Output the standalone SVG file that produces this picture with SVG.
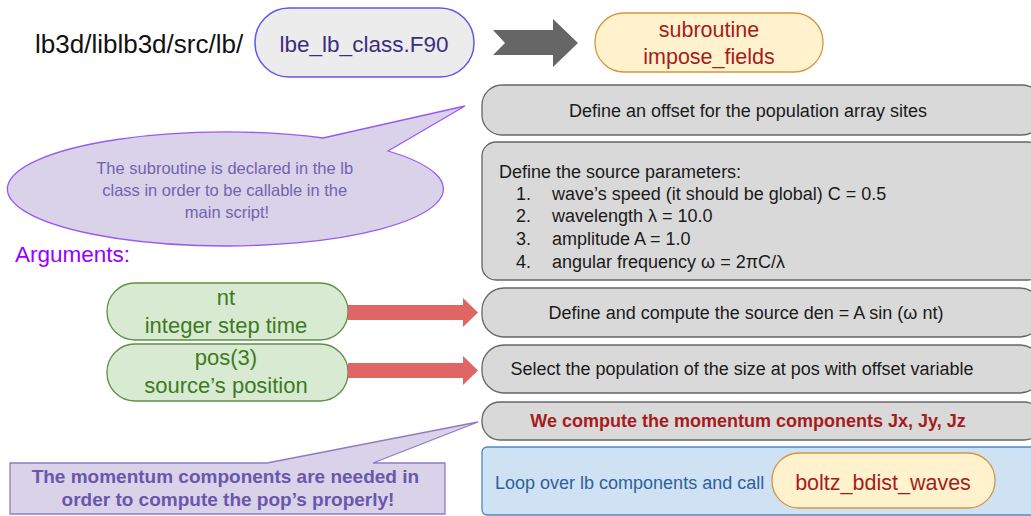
<svg xmlns="http://www.w3.org/2000/svg" width="1031" height="516" viewBox="0 0 1031 516">
  <style>
    text { font-family: "Liberation Sans", Arial, sans-serif; }
    .step { fill: #d9d9d9; stroke: #666666; stroke-width: 1.3; }
    .steptxt { font-size: 18px; fill: #1a1a1a; text-anchor: middle; }
    .orange { fill: #fff2cc; stroke: #d6953f; stroke-width: 1.3; }
    .redtxt { font-size: 21.5px; fill: #a61c1c; text-anchor: middle; }
    .green { fill: #d9ead3; stroke: #5f9146; stroke-width: 1.3; }
    .greentxt { font-size: 22px; fill: #3d7a22; text-anchor: middle; }
    .note { fill: #d9d2e9; stroke: #9b59f0; stroke-width: 1.3; }
    .redarrow { fill: #e06666; }
  </style>

  <!-- path label and source file -->
  <g id="path-label">
    <text x="35" y="53" font-size="26" fill="#111111">lb3d/liblb3d/src/lb/</text>
  </g>
  <g id="source-file">
    <rect x="255" y="8" width="219" height="69" rx="34" fill="#ececec" stroke="#5a5aee" stroke-width="1.5"/>
    <text x="364" y="52" font-size="22.5" fill="#3b2e7e" text-anchor="middle">lbe_lb_class.F90</text>
  </g>

  <g id="subroutine">
    <rect x="595" y="13" width="228" height="59" rx="29" class="orange"/>
    <text x="709" y="37" class="redtxt">subroutine</text>
    <text x="709" y="64" class="redtxt">impose_fields</text>
  </g>

  <!-- processing steps -->
  <g id="step-offset">
    <rect x="482" y="85" width="560" height="50" rx="20" class="step"/>
    <text x="748" y="117" class="steptxt">Define an offset for the population array sites</text>
  </g>

  <g id="step-params">
    <rect x="482" y="142" width="560" height="138" rx="14" class="step"/>
    <text x="499" y="178" font-size="18" fill="#1a1a1a">Define the source parameters:</text>
    <text font-size="18" fill="#1a1a1a">
      <tspan x="516" y="200">1.</tspan><tspan x="552" y="200">wave’s speed (it should be global) C = 0.5</tspan>
      <tspan x="516" y="222">2.</tspan><tspan x="552" y="222">wavelength  λ = 10.0</tspan>
      <tspan x="516" y="245">3.</tspan><tspan x="552" y="245">amplitude A = 1.0</tspan>
      <tspan x="516" y="268">4.</tspan><tspan x="552" y="268">angular frequency  ω = 2πC/λ</tspan>
    </text>
  </g>

  <g id="step-source">
    <rect x="482" y="288" width="560" height="49" rx="22" class="step"/>
    <text x="746" y="319" class="steptxt">Define and compute the source den = A sin (ω nt)</text>
  </g>

  <g id="step-select">
    <rect x="482" y="345" width="560" height="48" rx="22" class="step"/>
    <text x="742" y="375" class="steptxt">Select the population of the size at pos with offset variable</text>
  </g>

  <g id="step-momentum">
    <rect x="482" y="402" width="560" height="38" rx="18" class="step"/>
    <text x="748" y="427" class="steptxt" font-weight="bold" style="fill:#a61c1c">We compute the momentum components Jx, Jy, Jz</text>
  </g>

  <g id="step-loop">
    <rect x="482" y="447" width="560" height="68" rx="5" fill="#cfe2f3" stroke="#4f86c6" stroke-width="1.3"/>
    <text x="495" y="489" font-size="18" fill="#2f609a">Loop over lb components and call</text>
    <rect x="772" y="453" width="223" height="55" rx="27" class="orange"/>
    <text x="883" y="490" class="redtxt">boltz_bdist_waves</text>
  </g>

  <!-- notes -->
  <g id="note-declared">
    <path class="note" d="M323,138 L465,106 L388,151 A218,57 0 1,1 323,138 Z"/>
    <text font-size="16.5" fill="#7263b0" text-anchor="middle">
      <tspan x="227" y="174">The subroutine is declared in the lb</tspan>
      <tspan x="227" y="196">class in order to be callable in the</tspan>
      <tspan x="227" y="218">main script!</tspan>
    </text>
  </g>

  <g id="arguments-label">
    <text x="15" y="262" font-size="22.5" fill="#9900ff">Arguments:</text>
  </g>

  <g id="arg-nt">
    <rect x="107" y="283" width="241" height="57" rx="28" class="green"/>
    <text x="226" y="305" class="greentxt">nt</text>
    <text x="226" y="333" class="greentxt">integer step time</text>
  </g>

  <g id="arg-pos">
    <rect x="107" y="344" width="241" height="57" rx="28" class="green"/>
    <text x="226" y="365" class="greentxt">pos(3)</text>
    <text x="226" y="393" class="greentxt">source’s position</text>
  </g>

  <g id="note-momentum">
    <path d="M10,463 L267,463 L478,422 L373,463 L445,463 L445,514 L10,514 Z" fill="#d9d2e9" stroke="#8e7cc3" stroke-width="1.3"/>
    <text font-size="19" font-weight="bold" fill="#6a57ad" text-anchor="middle">
      <tspan x="228" y="483">The momentum components are needed in</tspan>
      <tspan x="228" y="506">order to compute the pop’s properly!</tspan>
    </text>
  </g>

  <!-- connectors -->
  <g id="connectors">
    <path d="M493,30 L553,30 L553,19 L578,43 L553,67 L553,55 L493,55 L505,43 Z" fill="#666666"/>
    <path class="redarrow" d="M348,305 L463,305 L463,298 L478,312.5 L463,327 L463,320 L348,320 Z"/>
    <path class="redarrow" d="M348,363 L463,363 L463,356 L478,370.5 L463,385 L463,378 L348,378 Z"/>
  </g>
</svg>
